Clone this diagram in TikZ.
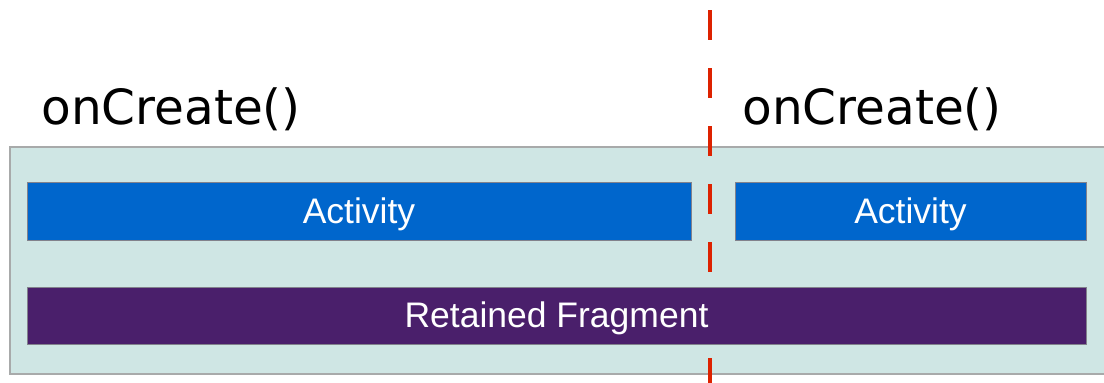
\documentclass[tikz,border=0pt]{standalone}
\usepackage{fontspec}
\setmainfont{Liberation Sans}
\newfontfamily\titlefont{DejaVu Sans}
\definecolor{panelteal}{RGB}{207,230,228}
\definecolor{panelline}{RGB}{168,170,170}
\definecolor{actblue}{RGB}{0,102,204}
\definecolor{fragpurple}{RGB}{74,31,107}
\definecolor{boxline}{RGB}{130,130,140}
\definecolor{cutred}{RGB}{221,34,0}
\tikzset{every picture/.style={line width=0.75pt}}
\tikzset{
  actbox/.style={draw=boxline, line width=1pt, fill=actblue, text=white, inner sep=0pt, minimum height=58, text height=24pt, text depth=0pt, font=\fontsize{35.5}{38}\selectfont},
  fragbox/.style={draw=boxline, line width=1pt, fill=fragpurple, text=white, inner sep=0pt, minimum height=57, text height=24pt, text depth=0pt, font=\fontsize{35.5}{38}\selectfont},
  calltext/.style={anchor=base west, inner sep=0pt, font=\titlefont\fontsize{48.5}{52}\selectfont}
}

\begin{document}
\begin{tikzpicture}[x=1pt,y=1pt,yscale=-1,xscale=1]
\useasboundingbox (0,0) rectangle (1104,383);
%Shape: Rectangle [id:panel]
\draw [draw=panelline, fill=panelteal, line width=1.5pt] (10,147) rectangle (1112,374);
%Straight Lines [id:cutline]
\coordinate (cuttop) at (710,10);
\coordinate (cutbot) at (710,390);
\draw [color=cutred, line width=4pt, dash pattern={on 30pt off 28pt}] (cuttop) -- (cutbot);
% Boxes
\node [actbox, minimum width=664] (actold) at (359,211) {Activity};
\node [actbox, minimum width=351] (actnew) at (910.5,211) {Activity};
\node [fragbox, minimum width=1059] (frag) at (556.5,315.5) {Retained Fragment};
% Text Node
\node [calltext] (createold) at (41,124) {onCreate()};
% Text Node
\node [calltext] (createnew) at (742,124) {onCreate()};
\end{tikzpicture}
\end{document}
